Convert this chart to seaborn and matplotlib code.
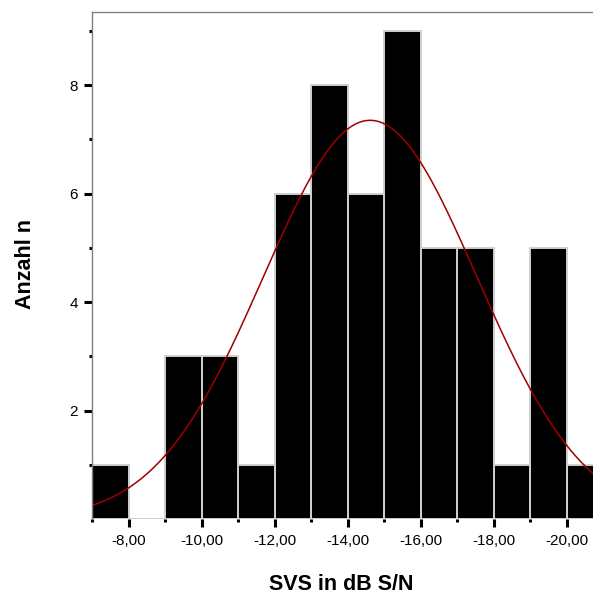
import numpy as np
import pandas as pd
import matplotlib
matplotlib.use("Agg")
import matplotlib.pyplot as plt
import seaborn as sns

# Data
bin_edges = [-7, -8, -9, -10, -11, -12, -13, -14, -15, -16, -17, -18, -19, -20, -21]
counts = [1, 0, 3, 3, 1, 6, 8, 6, 9, 5, 5, 1, 5, 1]
fit_mean = -14.62
fit_sd = 2.93
x_ticks = [-8, -10, -12, -14, -16, -18, -20]
x_tick_labels = ["-8,00", "-10,00", "-12,00", "-14,00", "-16,00", "-18,00", "-20,00"]
y_ticks = [2, 4, 6, 8]
y_tick_labels = ["2", "4", "6", "8"]

sns.set_style("white")
plt.rcParams["font.family"] = ["Liberation Sans", "DejaVu Sans"]
plt.rcParams["text.color"] = "black"
plt.rcParams["axes.labelcolor"] = "black"
plt.rcParams["xtick.color"] = "black"
plt.rcParams["ytick.color"] = "black"

mids = [(bin_edges[i] + bin_edges[i + 1]) / 2 for i in range(len(counts))]
df = pd.DataFrame({"svs": mids, "n": counts})

fig = plt.figure(figsize=(5.93, 5.99), dpi=100)
ax = fig.add_axes([92 / 593, 80 / 599, 501 / 593, 507 / 599])

sns.histplot(data=df, x="svs", weights="n", bins=sorted(bin_edges), ax=ax,
             color="black", alpha=1.0, edgecolor="#d0d0d0", linewidth=1.4)

# Normal fit curve
total = sum(counts)
bw = 1.0
xs = np.linspace(-7, -21, 600)
ys = total * bw / (fit_sd * np.sqrt(2 * np.pi)) * np.exp(-0.5 * ((xs - fit_mean) / fit_sd) ** 2)
sns.lineplot(x=xs, y=ys, ax=ax, color="#a00000", linewidth=1.1, sort=False)

ax.set_xticks(x_ticks)
ax.set_xticklabels(x_tick_labels, fontsize=11)
ax.set_xticks([-7, -9, -11, -13, -15, -17, -19], minor=True)
ax.set_yticks(y_ticks)
ax.set_yticklabels(y_tick_labels, fontsize=11)
ax.set_yticks([1, 3, 5, 7, 9], minor=True)

ax.set_xlim(-7, -7 - 501 / 36.5)
ax.set_ylim(0, 9.35)

ax.tick_params(axis="both", which="major", length=6, width=2.2, color="black",
               labelcolor="black", direction="out", bottom=True, left=True)
ax.tick_params(axis="x", which="major", pad=5)
ax.tick_params(axis="y", which="major", pad=4)
ax.tick_params(axis="both", which="minor", length=2.5, width=2.2, color="black",
               direction="out", bottom=True, left=True)

for side in ["left", "top"]:
    ax.spines[side].set_color("#808080")
    ax.spines[side].set_linewidth(1.0)
ax.spines["bottom"].set_visible(False)
ax.spines["right"].set_visible(False)

ax.set_xlabel("SVS in dB S/N", fontsize=15.5, fontweight="bold", va="center", color="black")
ax.xaxis.set_label_coords((341 - 92) / 501, (519 - 585) / 507)
ax.set_ylabel("Anzahl n", fontsize=15.5, fontweight="bold", va="center", color="black")
ax.yaxis.set_label_coords((26 - 92) / 501, (519 - 264) / 507)

fig.savefig("out.png", dpi=100)
